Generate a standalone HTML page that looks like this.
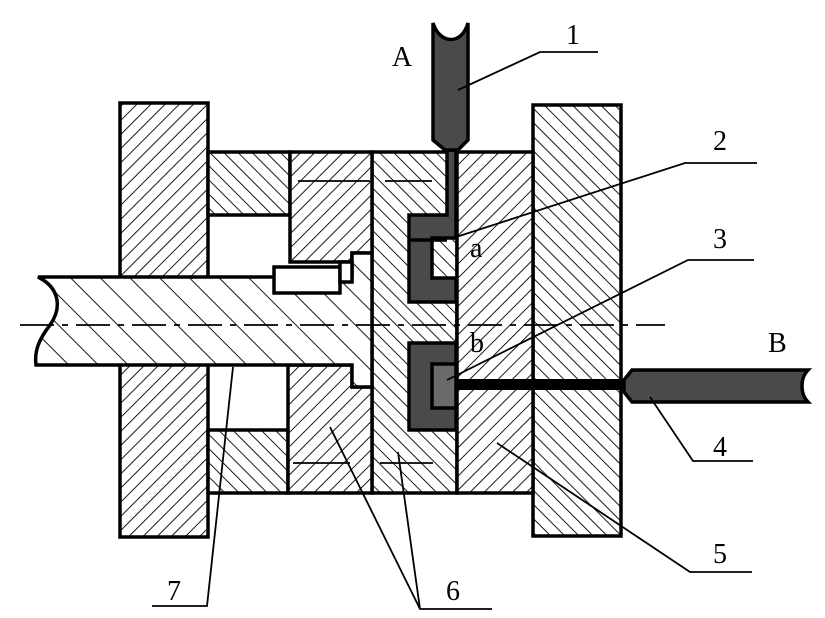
<!DOCTYPE html>
<html><head><meta charset="utf-8"><style>
html,body{margin:0;padding:0;background:#fff;}
svg{display:block}
text{font-family:"Liberation Serif",serif;font-size:28px;fill:#000}
</style></head><body>
<svg width="825" height="618" viewBox="0 0 825 618" xmlns="http://www.w3.org/2000/svg">
<defs>
<pattern id="hf" width="10" height="10" patternUnits="userSpaceOnUse" patternTransform="rotate(45)"><rect width="10" height="10" fill="#fff"/><line x1="0" y1="0" x2="0" y2="10" stroke="#000" stroke-width="1.8"/></pattern>
<pattern id="hb" width="10" height="10" patternUnits="userSpaceOnUse" patternTransform="rotate(-45)"><rect width="10" height="10" fill="#fff"/><line x1="0" y1="0" x2="0" y2="10" stroke="#000" stroke-width="1.8"/></pattern>
<pattern id="hs" width="21" height="21" patternUnits="userSpaceOnUse" patternTransform="rotate(-45)"><rect width="21" height="21" fill="#fff"/><line x1="0" y1="0" x2="0" y2="21" stroke="#000" stroke-width="1.8"/></pattern>
</defs>
<g stroke="#000" stroke-width="3.5">
<rect x="120" y="103" width="88" height="434" fill="url(#hf)"/>
<rect x="533" y="105" width="88" height="431" fill="url(#hb)"/>
<rect x="208" y="152" width="82" height="63" fill="url(#hb)"/>
<rect x="208" y="430" width="80" height="63" fill="url(#hb)"/>
<rect x="372" y="152" width="85" height="341" fill="url(#hb)"/>
<rect x="457" y="152" width="76" height="341" fill="url(#hf)"/>
<polygon points="290,152 372,152 372,253 352,253 352,262 290,262" fill="url(#hf)"/>
<polygon points="288,365 352,365 352,387 372,387 372,493 288,493" fill="url(#hf)"/>
<path d="M38,277 H352 V253 H372 V387 H352 V365 H36 C34,350 40,338 50,325 C62,308 60,288 38,277 Z" fill="url(#hs)"/>
<rect x="274" y="267" width="66" height="26" fill="#fff"/>
<rect x="340" y="262" width="12" height="20" fill="#fff"/>
<polygon points="447,150 456,150 456,238 432,238 432,278 456,278 456,302 409,302 409,215 447,215" fill="#4a4a4a"/>
<line x1="409" y1="240" x2="447" y2="240"/>
<rect x="409" y="343" width="47" height="87" fill="#4a4a4a"/>
<rect x="432" y="364" width="24" height="44" fill="#6a6a6a"/>
<rect x="456" y="379" width="168" height="11" fill="#000" stroke="none"/>
<path d="M624,380 L632,370 H808 C800,378 800,394 808,402 H632 L624,392 Z" fill="#4a4a4a"/>
<path d="M433,23 V140 L445,150 H458 L468,140 V23 C462,45 440,45 433,23 Z" fill="#4a4a4a"/>
</g>
<g stroke="#000" stroke-width="1.8" fill="none">
<line x1="456" y1="302" x2="456" y2="343" stroke-dasharray="3,3"/>
<line x1="298" y1="181" x2="370" y2="181"/>
<line x1="385" y1="181" x2="432" y2="181"/>
<line x1="293" y1="463" x2="350" y2="463"/>
<line x1="380" y1="463" x2="433" y2="463"/>
<path d="M20,325 H665" stroke-dasharray="34,8,6,8"/>
<polyline points="458,90 540,52 598,52"/>
<polyline points="453,238 685,163 757,163"/>
<polyline points="447,380 688,260 754,260"/>
<polyline points="650,397 693,461 753,461"/>
<polyline points="497,443 690,572 752,572"/>
<polyline points="233,367 207,606 152,606"/>
<polyline points="330,427 420,609 492,609"/>
<line x1="398" y1="452" x2="420" y2="609"/>
</g>
<text x="392" y="66">A</text>
<text x="768" y="352">B</text>
<text x="566" y="44">1</text>
<text x="713" y="150">2</text>
<text x="713" y="248">3</text>
<text x="713" y="456">4</text>
<text x="713" y="563">5</text>
<text x="446" y="600">6</text>
<text x="167" y="600">7</text>
<text x="470" y="257">a</text>
<text x="470" y="352">b</text>
</svg>
</body></html>
